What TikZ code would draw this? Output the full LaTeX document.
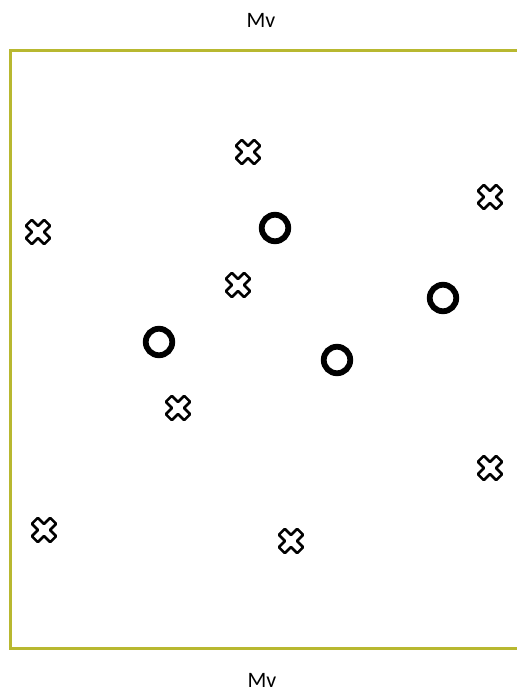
\documentclass[tikz,border=0pt]{standalone}
\usepackage{fontspec}
\setmainfont{Carlito}
\definecolor{frameol}{RGB}{184,184,48}
\begin{document}
\begin{tikzpicture}[x=1pt,y=-1pt,
  framestyle/.style={draw=frameol,line width=3pt},
  ring/.style={circle,draw=black,line width=5.8pt,minimum size=26.5pt,inner sep=0pt},
  mvtext/.style={font=\fontsize{22}{25}\selectfont,inner sep=0pt},
  xmark/.pic={\draw[black,fill=white,line width=2.6pt,rounded corners=0.8pt,rotate=45]
     (-4.2,13)--(4.2,13)--(4.2,4.2)--(13,4.2)--(13,-4.2)--(4.2,-4.2)--(4.2,-13)--(-4.2,-13)--(-4.2,-4.2)--(-13,-4.2)--(-13,4.2)--(-4.2,4.2)--cycle;}]
\useasboundingbox (0,0) rectangle (516,692);
\fill[white] (0,0) rectangle (516,692);
\coordinate (tr) at (517,51);
\coordinate (tl) at (10,51);
\coordinate (bl) at (10,648);
\coordinate (br) at (517,648);
\draw[framestyle] (tr) -- (tl) -- (bl) -- (br);
\node[mvtext] (top) at (261,20) {Mv};
\node[mvtext] (bot) at (262,680) {Mv};
\pic at (248,152) {xmark};
\pic at (490,197) {xmark};
\pic at (38,232) {xmark};
\pic at (238,285) {xmark};
\pic at (178,408) {xmark};
\pic at (490,468) {xmark};
\pic at (44,530) {xmark};
\pic at (291,541) {xmark};
\node[ring] (c1) at (275,228) {};
\node[ring] (c2) at (443,298) {};
\node[ring] (c3) at (159,342) {};
\node[ring] (c4) at (337,360) {};
\end{tikzpicture}
\end{document}
